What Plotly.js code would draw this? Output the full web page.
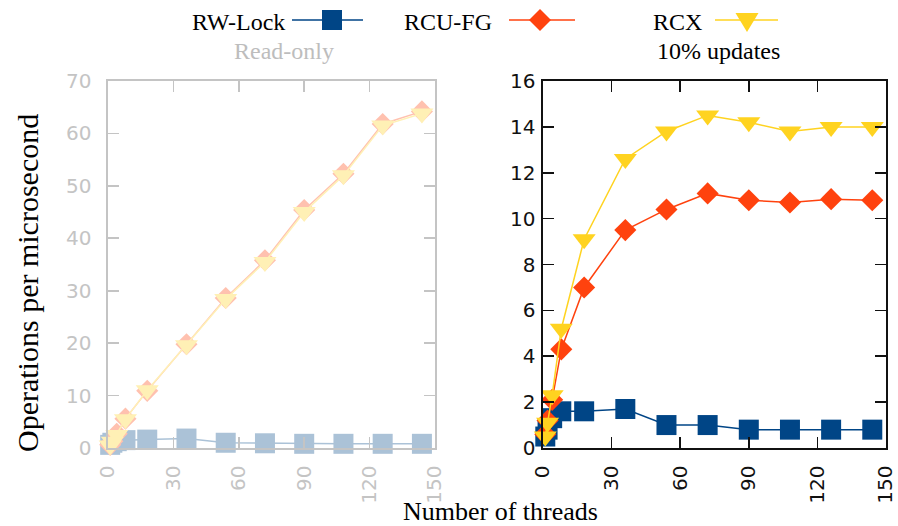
<!DOCTYPE html>
<html><head><meta charset="utf-8">
<script src="https://cdn.plot.ly/plotly-3.0.1.min.js"></script>
<style>html,body{margin:0;padding:0;background:#fff}#chart{width:898px;height:526px}</style>
</head><body><div id="chart"></div>
<script>
// ---- data ----
const threads = [1, 2, 4, 8, 18, 36, 54, 72, 90, 108, 126, 144];
const seriesNames = ['RW-Lock', 'RCU-FG', 'RCX'];
const panelTitles = ['Read-only', '10% updates'];
// Read-only panel
const rwLockRO = [0.6, 1.0, 1.3, 1.5, 1.6, 1.8, 1.0, 0.9, 0.8, 0.8, 0.8, 0.8];
const rcuFgRO  = [0.6, 1.3, 2.7, 5.6, 10.9, 19.8, 28.6, 35.8, 45.4, 52.3, 61.8, 64.2];
const rcxRO    = [0.5, 1.2, 2.5, 5.5, 11.0, 19.6, 28.4, 35.5, 45.0, 52.0, 61.5, 63.8];
// 10% updates panel
const rwLock10 = [0.5, 0.8, 1.3, 1.6, 1.6, 1.7, 1.0, 1.0, 0.8, 0.8, 0.8, 0.8];
const rcuFg10  = [0.6, 1.2, 2.1, 4.3, 7.0, 9.5, 10.4, 11.1, 10.8, 10.7, 10.85, 10.8];
const rcx10    = [0.5, 1.1, 2.3, 5.2, 9.1, 12.6, 13.8, 14.5, 14.2, 13.8, 14.0, 14.0];
const xTicks = [0, 30, 60, 90, 120, 150];
const yTicksRO = [0, 10, 20, 30, 40, 50, 60, 70];
const yTicks10 = [0, 2, 4, 6, 8, 10, 12, 14, 16];

// ---- styles ----
const colors = ['#004586', '#ff420e', '#ffd320'];
const symbols = ['square', 'diamond', 'triangle-down'];
const sizes = [20, 17, 20];
const serif = 'Liberation Serif, Times New Roman, serif';
const sans = 'DejaVu Sans, sans-serif';
const W = 898, H = 526;
const px = v => v / W, py = v => 1 - v / H;
function fade(hex, a) {
  const n = parseInt(hex.slice(1), 16);
  const ch = [(n >> 16) & 255, (n >> 8) & 255, n & 255].map(c => Math.round(255 - a * (255 - c)));
  return 'rgb(' + ch.join(',') + ')';
}

const roData = [rwLockRO, rcuFgRO, rcxRO];
const upData = [rwLock10, rcuFg10, rcx10];
const traces = [];
roData.forEach((ys, i) => {
  const c = fade(colors[i], 0.33);
  traces.push({
    x: threads, y: ys, xaxis: 'x', yaxis: 'y', type: 'scatter', mode: 'lines+markers',
    name: seriesNames[i], showlegend: false, cliponaxis: false,
    line: {color: c, width: 1.5},
    marker: {color: c, symbol: symbols[i], size: sizes[i], line: {width: 0}}
  });
});
upData.forEach((ys, i) => traces.push({
  x: threads, y: ys, xaxis: 'x2', yaxis: 'y2', type: 'scatter', mode: 'lines+markers',
  name: seriesNames[i], showlegend: false, cliponaxis: false,
  line: {color: colors[i], width: 1.5},
  marker: {color: colors[i], symbol: symbols[i], size: sizes[i], line: {width: 0}}
}));

function axis(color, extra) {
  return Object.assign({
    showline: true, linecolor: color, linewidth: 1.6, mirror: 'allticks',
    ticks: 'inside', ticklen: 11, tickwidth: 1.6, tickcolor: color,
    showgrid: false, zeroline: false, fixedrange: true,
    tickfont: {family: sans, size: 20, color: color}
  }, extra);
}
const gray = '#c4c4c4';
const black = '#111111';
const yTop = py(81), yBot = py(448);

const layout = {
  width: W, height: H, margin: {l: 0, r: 0, t: 0, b: 0},
  paper_bgcolor: '#fff', plot_bgcolor: '#fff', showlegend: false,
  xaxis: axis(gray, {domain: [px(108), px(435)], range: [0, 150], tickvals: xTicks, tickangle: -90, anchor: 'y', ticklabelstandoff: 8}),
  yaxis: axis(gray, {domain: [yBot, yTop], range: [0, 70], tickvals: yTicksRO, anchor: 'x', ticklabelstandoff: 11}),
  xaxis2: axis(black, {domain: [px(543), px(886)], range: [0, 150], tickvals: xTicks, tickangle: -90, anchor: 'y2', ticklabelstandoff: 8}),
  yaxis2: axis(black, {domain: [yBot, yTop], range: [0, 16], tickvals: yTicks10, anchor: 'x2', ticklabelstandoff: 2}),
  annotations: [
    {text: seriesNames[0], x: px(287), y: py(22), xref: 'paper', yref: 'paper', xanchor: 'right', yanchor: 'middle', showarrow: false, font: {family: serif, size: 24, color: '#000'}},
    {text: seriesNames[1], x: px(494), y: py(22), xref: 'paper', yref: 'paper', xanchor: 'right', yanchor: 'middle', showarrow: false, font: {family: serif, size: 24, color: '#000'}},
    {text: seriesNames[2], x: px(651), y: py(22), xref: 'paper', yref: 'paper', xanchor: 'left', yanchor: 'middle', showarrow: false, font: {family: serif, size: 24, color: '#000'}},
    {text: panelTitles[0], x: px(284), y: py(51), xref: 'paper', yref: 'paper', xanchor: 'center', yanchor: 'middle', showarrow: false, font: {family: serif, size: 24, color: '#bdbdbd'}},
    {text: panelTitles[1], x: px(718), y: py(51), xref: 'paper', yref: 'paper', xanchor: 'center', yanchor: 'middle', showarrow: false, font: {family: serif, size: 24, color: '#000'}},
    {text: 'Number of threads', x: px(500), y: py(511), xref: 'paper', yref: 'paper', xanchor: 'center', yanchor: 'middle', showarrow: false, font: {family: serif, size: 26, color: '#000'}},
    {text: 'Operations per microsecond', x: px(27), y: py(283), xref: 'paper', yref: 'paper', xanchor: 'center', yanchor: 'middle', textangle: -90, showarrow: false, font: {family: serif, size: 30, color: '#000'}}
  ],
  shapes: [
    {type: 'line', xref: 'paper', yref: 'paper', x0: px(292), x1: px(363), y0: py(20), y1: py(20), line: {color: colors[0], width: 1.5}},
    {type: 'line', xref: 'paper', yref: 'paper', x0: px(509), x1: px(575), y0: py(20), y1: py(20), line: {color: colors[1], width: 1.5}},
    {type: 'line', xref: 'paper', yref: 'paper', x0: px(715), x1: px(778), y0: py(20), y1: py(20), line: {color: colors[2], width: 1.5}},
    {type: 'rect', xref: 'paper', yref: 'paper', xsizemode: 'pixel', ysizemode: 'pixel', xanchor: px(332), yanchor: py(20), x0: -10, x1: 10, y0: -10, y1: 10, fillcolor: colors[0], line: {width: 0}},
    {type: 'path', xref: 'paper', yref: 'paper', xsizemode: 'pixel', ysizemode: 'pixel', xanchor: px(540), yanchor: py(20), path: 'M0,11 L11,0 L0,-11 L-11,0 Z', fillcolor: colors[1], line: {width: 0}},
    {type: 'path', xref: 'paper', yref: 'paper', xsizemode: 'pixel', ysizemode: 'pixel', xanchor: px(747), yanchor: py(20), path: 'M-11.5,7 L11.5,7 L0,-12 Z', fillcolor: colors[2], line: {width: 0}}
  ]
};
Plotly.newPlot('chart', traces, layout, {staticPlot: true, displayModeBar: false});
</script></body></html>
